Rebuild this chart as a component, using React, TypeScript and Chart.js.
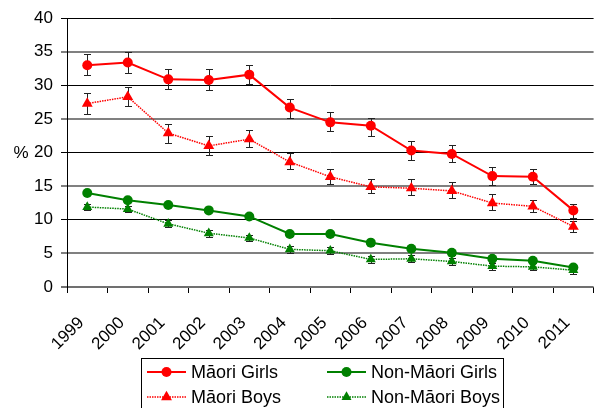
import React, { useEffect, useRef } from 'react';
import { Chart, registerables } from 'chart.js';

Chart.register(...registerables);

const years = ['1999', '2000', '2001', '2002', '2003', '2004', '2005', '2006', '2007', '2008', '2009', '2010', '2011'];

const maoriGirls = [33.0, 33.4, 30.9, 30.8, 31.6, 26.7, 24.5, 24.0, 20.3, 19.8, 16.5, 16.4, 11.4];
const maoriGirlsLow = [31.5, 31.9, 29.4, 29.3, 30.2, 25.2, 23.2, 22.5, 18.9, 18.6, 15.2, 15.3, 10.2];
const maoriGirlsHigh = [34.6, 35.0, 32.4, 32.4, 33.1, 28.0, 26.0, 25.2, 21.7, 21.2, 17.9, 17.5, 12.4];

const maoriBoys = [27.3, 28.3, 22.9, 21.0, 22.0, 18.6, 16.4, 14.9, 14.7, 14.3, 12.5, 12.0, 9.0];
const maoriBoysLow = [25.7, 26.9, 21.5, 19.6, 20.8, 17.5, 15.3, 14.0, 13.7, 13.2, 11.5, 11.2, 8.2];
const maoriBoysHigh = [28.8, 29.8, 24.3, 22.4, 23.3, 19.9, 17.5, 16.0, 16.1, 15.6, 13.9, 13.0, 9.8];

const nonMaoriGirls = [14.0, 12.9, 12.2, 11.4, 10.5, 7.9, 7.9, 6.6, 5.7, 5.1, 4.2, 3.9, 2.9];
const nonMaoriGirlsLow = [13.7, 12.6, 11.9, 11.1, 10.2, 7.6, 7.6, 6.3, 5.4, 4.8, 3.9, 3.6, 2.6];
const nonMaoriGirlsHigh = [14.3, 13.2, 12.5, 11.7, 10.8, 8.2, 8.2, 6.9, 6.0, 5.4, 4.5, 4.2, 3.2];

const nonMaoriBoys = [11.9, 11.6, 9.4, 8.0, 7.3, 5.6, 5.4, 4.1, 4.2, 3.8, 3.1, 3.0, 2.5];
const nonMaoriBoysLow = [11.4, 11.1, 8.9, 7.5, 6.8, 5.1, 4.9, 3.6, 3.7, 3.3, 2.6, 2.5, 2.0];
const nonMaoriBoysHigh = [12.4, 12.1, 9.9, 8.5, 7.8, 6.1, 5.9, 4.6, 4.7, 4.3, 3.6, 3.5, 3.0];

const yMin = 0;
const yMax = 40;
const yStep = 5;
const yTitle = '%';

const legendLabels = ['Māori Girls', 'Non-Māori Girls', 'Māori Boys', 'Non-Māori Boys'];

const FONT = '"Liberation Sans", Arial, Helvetica, sans-serif';
const RED = '#ff0000';
const GREEN = '#008000';

const errorBarsPlugin = {
  id: 'errorBars',
  beforeDatasetsDraw(chart: any) {
    const ctx = chart.ctx;
    const ys = chart.scales.y;
    chart.data.datasets.forEach((ds: any, i: number) => {
      const meta = chart.getDatasetMeta(i);
      if (!ds.errLow || !ds.errHigh) return;
      ctx.save();
      ctx.strokeStyle = '#222222';
      ctx.lineWidth = 1;
      meta.data.forEach((pt: any, j: number) => {
        const x = Math.round(pt.x) + 0.5;
        const y1 = Math.round(ys.getPixelForValue(ds.errHigh[j])) + 0.5;
        const y2 = Math.round(ys.getPixelForValue(ds.errLow[j])) + 0.5;
        ctx.beginPath();
        ctx.moveTo(x, y1);
        ctx.lineTo(x, y2);
        ctx.moveTo(x - 3.5, y1);
        ctx.lineTo(x + 3.5, y1);
        ctx.moveTo(x - 3.5, y2);
        ctx.lineTo(x + 3.5, y2);
        ctx.stroke();
      });
      ctx.restore();
    });
  },
};

function drawMarker(ctx: CanvasRenderingContext2D, style: string, x: number, y: number, r: number, color: string) {
  ctx.fillStyle = color;
  ctx.beginPath();
  if (style === 'circle') {
    ctx.arc(x, y, r, 0, Math.PI * 2);
  } else {
    ctx.moveTo(x, y - r);
    ctx.lineTo(x + r * Math.sin(Math.PI / 3), y + r / 2);
    ctx.lineTo(x - r * Math.sin(Math.PI / 3), y + r / 2);
    ctx.closePath();
  }
  ctx.fill();
}

const legendPlugin = {
  id: 'customLegend',
  afterDraw(chart: any) {
    const ctx = chart.ctx as CanvasRenderingContext2D;
    ctx.save();
    ctx.strokeStyle = '#000';
    ctx.lineWidth = 1;
    ctx.strokeRect(141.5, 358.5, 362, 60);
    const items = [
      { label: legendLabels[0], color: RED, style: 'circle', dash: [] as number[], x: 147, y: 372, r: 5 },
      { label: legendLabels[1], color: GREEN, style: 'circle', dash: [] as number[], x: 327, y: 372, r: 5 },
      { label: legendLabels[2], color: RED, style: 'triangle', dash: [1.5, 1], x: 147, y: 397, r: 6.3 },
      { label: legendLabels[3], color: GREEN, style: 'triangle', dash: [1.5, 1], x: 327, y: 397, r: 5.8 },
    ];
    ctx.font = '18px ' + FONT;
    ctx.textBaseline = 'middle';
    ctx.textAlign = 'left';
    items.forEach((it) => {
      ctx.strokeStyle = it.color;
      ctx.lineWidth = it.dash.length ? 1.5 : 2;
      ctx.setLineDash(it.dash);
      ctx.beginPath();
      ctx.moveTo(it.x, it.y);
      ctx.lineTo(it.x + 39, it.y);
      ctx.stroke();
      ctx.setLineDash([]);
      drawMarker(ctx, it.style, it.x + 19.5, it.y, it.r, it.color);
      ctx.fillStyle = '#000';
      ctx.fillText(it.label, it.x + 44, it.y + 1);
    });
    ctx.restore();
  },
};

const yTitlePlugin = {
  id: 'yTitle',
  afterDraw(chart: any) {
    const ctx = chart.ctx as CanvasRenderingContext2D;
    const ys = chart.scales.y;
    ctx.save();
    ctx.font = '17px ' + FONT;
    ctx.fillStyle = '#000';
    ctx.textAlign = 'center';
    ctx.textBaseline = 'middle';
    ctx.fillText(yTitle, 21, ys.getPixelForValue(20) + 1);
    ctx.restore();
  },
};

export default function App() {
  const canvasRef = useRef<HTMLCanvasElement | null>(null);

  useEffect(() => {
    const canvas = canvasRef.current;
    if (!canvas) return;
    Chart.defaults.font.family = FONT;
    Chart.defaults.color = '#000';

    const chart = new Chart(canvas, {
      type: 'line',
      data: {
        labels: years,
        datasets: [
          {
            label: legendLabels[0],
            data: maoriGirls,
            errLow: maoriGirlsLow,
            errHigh: maoriGirlsHigh,
            borderColor: RED,
            backgroundColor: RED,
            borderWidth: 2,
            pointStyle: 'circle',
            pointRadius: 5,
            pointBorderWidth: 0,
            pointBackgroundColor: RED,
            tension: 0,
          } as any,
          {
            label: legendLabels[2],
            data: maoriBoys,
            errLow: maoriBoysLow,
            errHigh: maoriBoysHigh,
            borderColor: RED,
            backgroundColor: RED,
            borderWidth: 1.5,
            borderDash: [1.5, 1],
            pointStyle: 'triangle',
            pointRadius: 6.3,
            pointBorderWidth: 0,
            pointBackgroundColor: RED,
            tension: 0,
          } as any,
          {
            label: legendLabels[1],
            data: nonMaoriGirls,
            errLow: nonMaoriGirlsLow,
            errHigh: nonMaoriGirlsHigh,
            borderColor: GREEN,
            backgroundColor: GREEN,
            borderWidth: 2,
            pointStyle: 'circle',
            pointRadius: 5,
            pointBorderWidth: 0,
            pointBackgroundColor: GREEN,
            tension: 0,
          } as any,
          {
            label: legendLabels[3],
            data: nonMaoriBoys,
            errLow: nonMaoriBoysLow,
            errHigh: nonMaoriBoysHigh,
            borderColor: GREEN,
            backgroundColor: GREEN,
            borderWidth: 1.5,
            borderDash: [1.5, 1],
            pointStyle: 'triangle',
            pointRadius: 5.8,
            pointBorderWidth: 0,
            pointBackgroundColor: GREEN,
            tension: 0,
          } as any,
        ],
      },
      options: {
        animation: false,
        responsive: false,
        devicePixelRatio: 1,
        layout: { padding: { left: 0, right: 0, top: 16, bottom: 0 } },
        plugins: {
          legend: { display: false },
          tooltip: { enabled: false },
          title: { display: false },
        },
        scales: {
          x: {
            type: 'category',
            offset: true,
            afterFit: (s: any) => {
              s.height = 121;
            },
            grid: {
              display: true,
              drawOnChartArea: false,
              drawTicks: true,
              tickLength: 6,
              offset: true,
              color: '#000',
              lineWidth: 1,
            },
            border: { display: false },
            ticks: {
              autoSkip: false,
              minRotation: 45,
              maxRotation: 45,
              padding: 20,
              labelOffset: -6,
              color: '#000',
              font: { size: 17, family: FONT },
            },
          },
          y: {
            min: yMin,
            max: yMax,
            afterFit: (s: any) => {
              s.width = 67;
            },
            grid: {
              display: true,
              drawTicks: true,
              tickLength: 6,
              color: (c: any) => (c.tick && c.tick.value % 10 !== 0 ? '#808080' : c.tick && c.tick.value === 0 ? '#707070' : '#000'),
              lineWidth: (c: any) => (c.tick && (c.tick.value % 10 !== 0 || c.tick.value === 0) ? 2 : 1),
            },
            border: { display: true, color: '#000', width: 1 },
            ticks: {
              stepSize: yStep,
              padding: 8,
              color: '#000',
              font: { size: 17, family: FONT },
            },
          },
        },
      },
      plugins: [errorBarsPlugin, legendPlugin, yTitlePlugin],
    } as any);

    return () => {
      chart.destroy();
    };
  }, []);

  return (
    <div style={{ position: 'absolute', left: 0, top: 0, width: 608, height: 408, background: '#fff' }}>
      <canvas ref={canvasRef} width={608} height={408} style={{ display: 'block' }} />
    </div>
  );
}
